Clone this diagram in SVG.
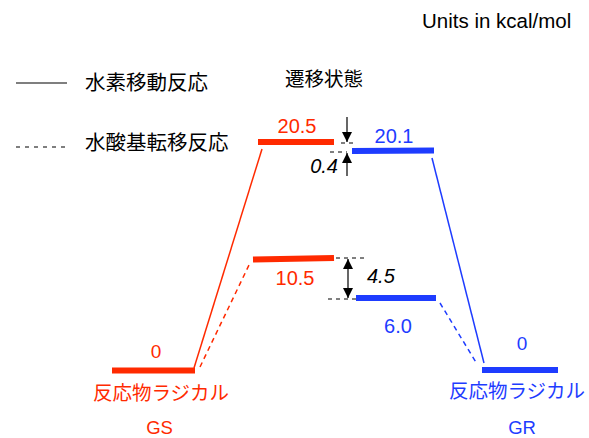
<svg xmlns="http://www.w3.org/2000/svg" width="589" height="438" viewBox="0 0 589 438">
<defs>
<marker id="ah" viewBox="0 0 10 10" refX="10" refY="5" markerWidth="10" markerHeight="10" markerUnits="userSpaceOnUse" orient="auto-start-reverse">
<path d="M0,0 L10,5 L0,10 z" fill="#000"/>
</marker>
<style>
.t{font-family:"Liberation Sans","Noto Sans CJK JP",sans-serif}
.j{font-family:"Noto Sans CJK JP","Liberation Sans",sans-serif}
.red{fill:#ff2a00}
.blue{fill:#1e3cff}
.k{fill:#000}
.barR{stroke:#ff2a00;stroke-width:6}
.barB{stroke:#1e3cff;stroke-width:6}
.dash{stroke:#000;stroke-width:1;stroke-dasharray:4 4}
</style>
</defs>
<rect width="589" height="438" fill="#fff"/>
<text class="t k" x="422" y="28" font-size="20.5">Units in kcal/mol</text>
<g id="legend">
<line x1="16" y1="83" x2="67" y2="83" stroke="#000" stroke-width="1.2"/>
<text class="j k" x="85" y="90" font-size="20.5">水素移動反応</text>
<line x1="16" y1="147" x2="67" y2="147" stroke="#000" stroke-width="1.2" stroke-dasharray="4 5"/>
<text class="j k" x="85" y="150" font-size="20.5">水酸基転移反応</text>
<text class="j k" x="324" y="86" font-size="19.5" text-anchor="middle">遷移状態</text>
</g>
<g id="connectors">
<line x1="194" y1="368" x2="262" y2="149" stroke="#ff2a00" stroke-width="1.5"/>
<line x1="200" y1="367" x2="250" y2="263" stroke="#ff2a00" stroke-width="1.5" stroke-dasharray="5 4"/>
<line x1="432" y1="158" x2="484" y2="363" stroke="#1e3cff" stroke-width="1.5"/>
<line x1="440" y1="303" x2="477" y2="364" stroke="#1e3cff" stroke-width="1.5" stroke-dasharray="5 4"/>
<line class="dash" x1="341" y1="143" x2="357" y2="143"/>
<line class="dash" x1="330" y1="152" x2="347" y2="152"/>
<line class="dash" x1="336" y1="258" x2="364" y2="258"/>
<line class="dash" x1="328" y1="299" x2="356" y2="299"/>
<line x1="347" y1="117" x2="347" y2="142" stroke="#000" stroke-width="1.2" marker-end="url(#ah)"/>
<line x1="347" y1="176" x2="347" y2="153" stroke="#000" stroke-width="1.2" marker-end="url(#ah)"/>
<line x1="348" y1="259" x2="348" y2="298" stroke="#000" stroke-width="1.2" marker-start="url(#ah)" marker-end="url(#ah)"/>
<text class="t k" x="338" y="173" font-size="20" font-style="italic" text-anchor="end">0.4</text>
<text class="t k" x="367" y="283" font-size="20" font-style="italic">4.5</text>
</g>
<g id="GS">
<line class="barR" x1="112" y1="370.5" x2="195" y2="370.5"/>
<text class="t red" x="156" y="358" font-size="19" text-anchor="middle">0</text>
<text class="j red" x="161" y="400" font-size="19.5" text-anchor="middle">反応物ラジカル</text>
<text class="t red" x="159.5" y="434" font-size="18.5" text-anchor="middle">GS</text>
</g>
<g id="TS_H">
<line class="barR" x1="258" y1="142" x2="334" y2="142"/>
<text class="t red" x="297" y="133" font-size="20" text-anchor="middle">20.5</text>
</g>
<g id="TS_OH">
<line class="barR" x1="253" y1="259.5" x2="334" y2="258"/>
<text class="t red" x="295" y="285" font-size="20" text-anchor="middle">10.5</text>
</g>
<g id="TS_H_blue">
<line class="barB" x1="352" y1="151" x2="434" y2="150.5"/>
<text class="t blue" x="394" y="143" font-size="20" text-anchor="middle">20.1</text>
</g>
<g id="TS_OH_blue">
<line class="barB" x1="356" y1="298" x2="436" y2="298"/>
<text class="t blue" x="398" y="333" font-size="20" text-anchor="middle">6.0</text>
</g>
<g id="GR">
<line class="barB" x1="482" y1="370" x2="558" y2="370"/>
<text class="t blue" x="522" y="350" font-size="19" text-anchor="middle">0</text>
<text class="j blue" x="517" y="398" font-size="19.5" text-anchor="middle">反応物ラジカル</text>
<text class="t blue" x="522" y="434" font-size="18.5" text-anchor="middle">GR</text>
</g>
</svg>
